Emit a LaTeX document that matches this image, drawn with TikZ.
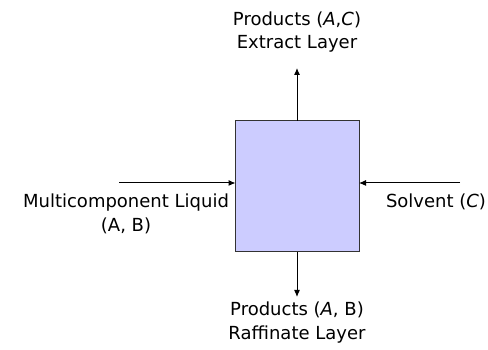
\documentclass[tikz,border=0pt]{standalone}
\usepackage{fontspec}
\setmainfont{DejaVu Sans}
\begin{document}
\begin{tikzpicture}[x=1pt,y=1pt,
  lbl/.style={align=center,inner sep=0pt,font=\fontsize{18}{23.5}\selectfont},
  flow/.style={draw=black,line width=1pt,-{Latex[length=7pt,width=6pt]}},
  unit/.style={draw=black!80,line width=1pt,fill=unitfill}]
\usetikzlibrary{arrows.meta}
\definecolor{unitfill}{HTML}{CCCCFF}
\useasboundingbox (0,0) rectangle (488,350);
\path[unit] (235.5,98) rectangle (359,229);
\coordinate (boxT) at (297,229);
\coordinate (boxB) at (297,98);
\coordinate (boxL) at (235.5,167);
\coordinate (boxR) at (359,167);
\coordinate (topTip) at (297,282);
\coordinate (botTip) at (297,53);
\coordinate (leftStart) at (119,167);
\coordinate (rightStart) at (460,167);
\node[lbl] (topText) at (297,318) {Products (\textit{A},\textit{C})\\Extract Layer};
\node[lbl] (botText) at (297,27.5) {Products (\textit{A}, B)\\Raffinate Layer};
\node[lbl] (leftText) at (126,136) {Multicomponent Liquid\\(A, B)};
\node[lbl] (rightText) at (436,148) {Solvent (\textit{C})};
\draw[flow] (boxT) -- (topTip);
\draw[flow] (boxB) -- (botTip);
\draw[flow] (leftStart) -- (boxL);
\draw[flow] (rightStart) -- (boxR);
\end{tikzpicture}
\end{document}
